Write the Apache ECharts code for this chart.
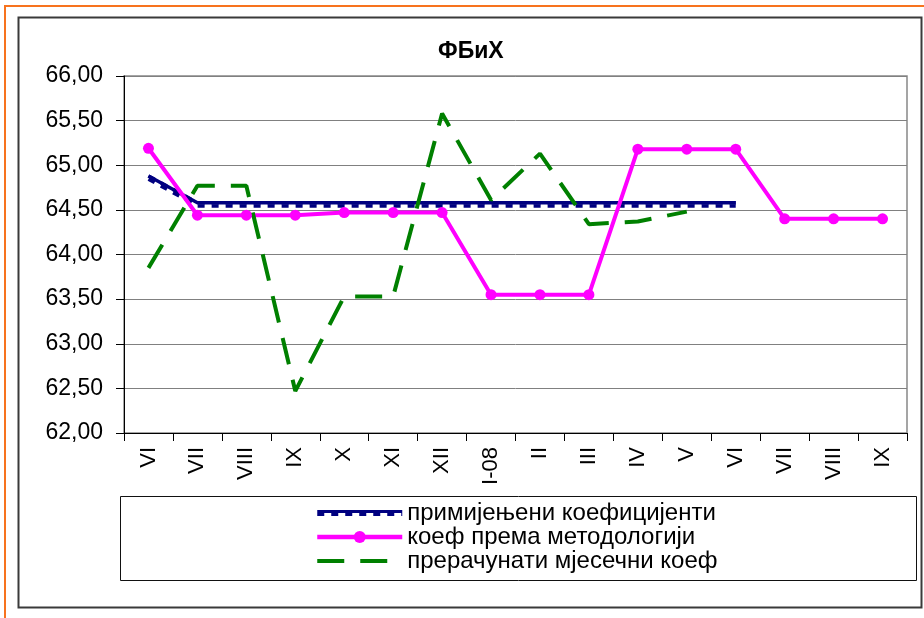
<!DOCTYPE html>
<html><head><meta charset="utf-8">
<script src="https://cdn.jsdelivr.net/npm/echarts@6.0.0/dist/echarts.min.js"></script>
<style>html,body{margin:0;padding:0;background:#fff}#c{width:924px;height:618px}</style>
</head><body><div id="c"></div>
<script>
const categories = ['VI','VII','VIII','IX','X','XI','XII','I-08','II','III','IV','V','VI','VII','VIII','IX'];
const applied = [64.88,64.58,64.58,64.58,64.58,64.58,64.58,64.58,64.58,64.58,64.58,64.58,64.58,null,null,null];
const methodology = [65.19,64.44,64.44,64.44,64.47,64.47,64.47,63.55,63.55,63.55,65.18,65.18,65.18,64.40,64.40,64.40];
const monthly = [63.85,64.77,64.77,62.47,63.53,63.53,65.58,64.61,65.13,64.34,64.37,64.48,null,null,null,null];
const seriesNames = ['примијењени коефицијенти','коеф према методологији','прерачунати мјесечни коеф'];
const chartTitle = 'ФБиХ';
const yMin = 62, yMax = 66, yStep = 0.5;

const FONT = '"Liberation Sans", Arial, sans-serif';
const NAVY = '#000080', PINK = '#FF00FF', GREEN = '#008000';

// legend icon for the patterned navy line
let bluePath = 'path://M0 0H85V3H0Z';
for (let x = 0; x < 85; x += 14) {
  const x2 = Math.min(85, x + 7);
  bluePath += 'M' + x + ' 3H' + x2 + 'V6H' + x + 'Z';
}

const chart = echarts.init(document.getElementById('c'), null, {renderer: 'canvas'});
chart.setOption({
  animation: false,
  backgroundColor: '#fff',
  title: {
    text: chartTitle, left: 438, top: 40, padding: 0,
    textStyle: {fontSize: 23, fontWeight: 'bold', color: '#000', fontFamily: FONT, lineHeight: 24}
  },
  grid: {left: 124, right: 17, top: 76, bottom: 185, containLabel: false, outerBoundsMode: 'none',
    show: true, borderColor: '#888', borderWidth: 1.5, backgroundColor: 'transparent'},
  graphic: [
    {type: 'rect', shape: {x: 5, y: 6, width: 1000, height: 1000}, style: {fill: 'none', stroke: '#F7731E', lineWidth: 2}, silent: true},
    {type: 'rect', shape: {x: 18.5, y: 17.5, width: 903, height: 590}, style: {fill: 'none', stroke: '#3a3a3a', lineWidth: 2}, silent: true},
    {type: 'rect', shape: {x: 120.5, y: 496.5, width: 796, height: 84}, style: {fill: 'none', stroke: '#111', lineWidth: 1}, silent: true}
  ],
  legend: {
    orient: 'vertical', left: 315, top: 501, padding: 0, itemWidth: 85, itemHeight: 15, itemGap: 0,
    selectedMode: false, symbolKeepAspect: true,
    textStyle: {fontSize: 24, color: '#000', fontFamily: FONT, lineHeight: 24},
    data: [
      {name: seriesNames[0], icon: bluePath, itemStyle: {color: NAVY, opacity: 1, borderWidth: 0}},
      {name: seriesNames[1], itemStyle: {color: PINK, borderWidth: 0}, lineStyle: {width: 4.5, color: PINK}},
      {name: seriesNames[2], itemStyle: {opacity: 0, borderWidth: 0}, lineStyle: {width: 4, color: GREEN, type: [27, 16]}}
    ]
  },
  xAxis: {
    type: 'category', data: categories, boundaryGap: true,
    axisLine: {show: true, lineStyle: {color: '#000', width: 1}},
    axisTick: {show: true, interval: 0, length: 8, inside: false, alignWithLabel: false, lineStyle: {color: '#000'}},
    axisLabel: {interval: 0, rotate: 90, margin: 14, fontSize: 22, color: '#000', fontFamily: FONT},
    splitLine: {show: false}
  },
  yAxis: {
    type: 'value', min: yMin, max: yMax, interval: yStep,
    axisLine: {show: true, lineStyle: {color: '#000', width: 1}},
    axisTick: {show: true, length: 8, inside: false, lineStyle: {color: '#000'}},
    axisLabel: {margin: 21, fontSize: 23, color: '#000', fontFamily: FONT,
      formatter: v => v.toFixed(2).replace('.', ',')},
    splitLine: {show: true, lineStyle: {color: '#808080', width: 1}}
  },
  series: [
    {name: seriesNames[0], type: 'line', data: applied, symbol: 'none', silent: true,
      lineStyle: {color: NAVY, width: 3.5}, itemStyle: {color: NAVY}},
    {name: '_pattern', type: 'line', data: applied, symbol: 'none', silent: true,
      lineStyle: {color: NAVY, width: 3.5, type: [7, 7], shadowColor: NAVY, shadowBlur: 0, shadowOffsetY: 3.2}},
    {name: seriesNames[1], type: 'line', data: methodology, symbol: 'circle', symbolSize: 11, silent: true,
      lineStyle: {color: PINK, width: 4}, itemStyle: {color: PINK, borderWidth: 0}},
    {name: seriesNames[2], type: 'line', data: monthly, symbol: 'none', silent: true,
      lineStyle: {color: GREEN, width: 4, type: [27, 16]}, itemStyle: {color: GREEN}}
  ]
});
</script></body></html>
